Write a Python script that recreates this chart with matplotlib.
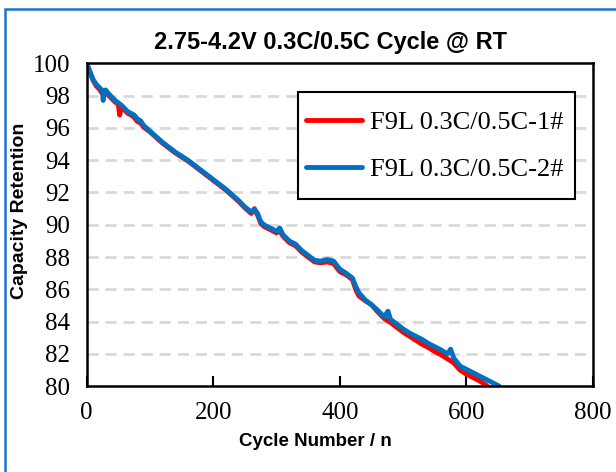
import matplotlib
matplotlib.use("Agg")
import matplotlib.pyplot as plt
from matplotlib.patches import Rectangle

title = "2.75-4.2V 0.3C/0.5C Cycle @ RT"
xlabel = "Cycle Number / n"
ylabel = "Capacity Retention"
labels = ["F9L 0.3C/0.5C-1#", "F9L 0.3C/0.5C-2#"]
colors = ["#FF0000", "#0070C0"]
xticks = [0, 200, 400, 600, 800]
yticks = [80, 82, 84, 86, 88, 90, 92, 94, 96, 98, 100]

cycles_1 = [0, 5, 10, 15, 20, 25, 30, 35, 40, 45, 50, 52, 55, 60, 65, 70, 75, 80, 85, 90,
            100, 110, 120, 130, 140, 150, 160, 170, 180, 190, 200, 210, 220, 230, 240,
            250, 260, 265, 270, 275, 280, 290, 300, 305, 310, 320, 330, 340, 350, 360,
            370, 380, 390, 400, 410, 420, 425, 430, 440, 450, 460, 470, 480, 490, 500,
            510, 520, 530, 540, 550, 560, 570, 580, 590, 600, 610, 620, 630, 636]
cap_1 = [100.0, 99.45, 98.95, 98.6, 98.4, 98.1, 98.2, 98.0, 97.8, 97.6, 97.45, 96.8, 97.3,
         97.1, 96.9, 96.8, 96.65, 96.4, 96.3, 96.05,
         95.75, 95.4, 95.05, 94.75, 94.45, 94.2, 93.95, 93.65, 93.35, 93.05, 92.75,
         92.45, 92.15, 91.8, 91.45, 91.05, 90.7, 91.0, 90.6, 90.1, 89.9, 89.7, 89.5,
         89.65, 89.3, 88.9, 88.7, 88.3, 88.0, 87.7, 87.65, 87.7, 87.6, 87.1, 86.9,
         86.6, 86.0, 85.6, 85.3, 85.05, 84.6, 84.2, 83.95, 83.65, 83.35, 83.1, 82.85,
         82.6, 82.4, 82.15, 81.95, 81.7, 81.45, 81.0, 80.75, 80.55, 80.35, 80.1, 79.9]

cycles_2 = [0, 5, 10, 15, 20, 25, 26, 28, 30, 35, 40, 45, 50, 55, 60, 65, 70, 75, 80, 85,
            90, 100, 110, 120, 130, 140, 150, 160, 170, 180, 190, 200, 210, 220, 230,
            240, 250, 260, 265, 270, 275, 280, 290, 300, 305, 310, 320, 330, 340, 350,
            360, 370, 380, 390, 400, 410, 420, 425, 430, 440, 450, 460, 470, 476, 480,
            490, 500, 510, 520, 530, 540, 550, 560, 570, 575, 580, 590, 600, 610, 620,
            630, 640, 652]
cap_2 = [100.0, 99.5, 99.0, 98.7, 98.5, 98.3, 97.7, 98.3, 98.35, 98.1, 97.9, 97.7, 97.55,
         97.4, 97.2, 97.0, 96.9, 96.8, 96.55, 96.45, 96.15,
         95.8, 95.45, 95.1, 94.8, 94.5, 94.25, 94.0, 93.7, 93.4, 93.1, 92.8, 92.5,
         92.2, 91.85, 91.5, 91.1, 90.8, 90.95, 90.7, 90.2, 90.0, 89.8, 89.6, 89.8,
         89.4, 89.0, 88.8, 88.4, 88.1, 87.8, 87.75, 87.85, 87.75, 87.25, 87.0, 86.7,
         86.2, 85.8, 85.35, 85.05, 84.7, 84.3, 84.65, 84.15, 83.85, 83.55, 83.3,
         83.1, 82.9, 82.65, 82.45, 82.25, 82.0, 82.3, 81.75, 81.25, 81.05, 80.85,
         80.65, 80.45, 80.25, 80.0]

fig = plt.figure(figsize=(6.16, 4.72), dpi=100)
fig.patches.append(Rectangle((5 / 616, -0.1), 1.2, (472 - 9) / 472 + 0.1,
                             transform=fig.transFigure, fill=False,
                             edgecolor="#1874CD", linewidth=1.8, clip_on=False))

ax = fig.add_axes([86.7 / 616, (472 - 386.3) / 472, (593 - 86.7) / 616, (386.3 - 63.3) / 472])

ax.plot(cycles_1, cap_1, color=colors[0], lw=3.5, label=labels[0], solid_capstyle="round")
ax.plot(cycles_2, cap_2, color=colors[1], lw=3.5, label=labels[1], solid_capstyle="round")

ax.set_xlim(0, 800)
ax.set_ylim(80, 100)
ax.set_xticks(xticks)
ax.set_yticks(yticks)
ax.set_xticklabels([str(v) for v in xticks], family="Liberation Serif", fontsize=18)
ax.set_yticklabels([str(v) for v in yticks], family="Liberation Serif", fontsize=18)
ax.tick_params(axis="x", direction="in", length=7, width=1.5, pad=11)
ax.tick_params(axis="y", length=0, pad=12)
for s in ax.spines.values():
    s.set_linewidth(1.8)
    s.set_color("black")

for v in yticks[1:-1]:
    ax.axhline(v, color="#D9D9D9", lw=2, dashes=(4, 2.5), zorder=0)

fig.text(330 / 616, 1 - 43 / 472, title, ha="center", va="center",
         family="Liberation Sans", fontweight="bold", fontsize=17)
fig.text(315 / 616, 1 - 441 / 472, xlabel, ha="center", va="center",
         family="Liberation Sans", fontweight="bold", fontsize=13.5)
fig.text(20 / 616, 1 - 211 / 472, ylabel, ha="center", va="center", rotation=90,
         family="Liberation Sans", fontweight="bold", fontsize=14)

# legend frame (drawn separately to get Excel-like uneven padding)
ax.add_patch(Rectangle((298 / 616, 1 - 199.3 / 472), (575 - 298) / 616, (199.3 - 92) / 472,
                       transform=fig.transFigure, facecolor="white", edgecolor="black",
                       linewidth=1.5, zorder=4, clip_on=False))
leg = ax.legend(loc="upper right", bbox_to_anchor=(575 / 616, 1 - 99 / 472),
                bbox_transform=fig.transFigure, borderaxespad=0, frameon=False,
                handlelength=2.1, handletextpad=0.3, labelspacing=0.87, borderpad=0.45,
                prop={"family": "Liberation Serif", "size": 19})
leg.set_zorder(5)

fig.savefig("out.png", dpi=100)
